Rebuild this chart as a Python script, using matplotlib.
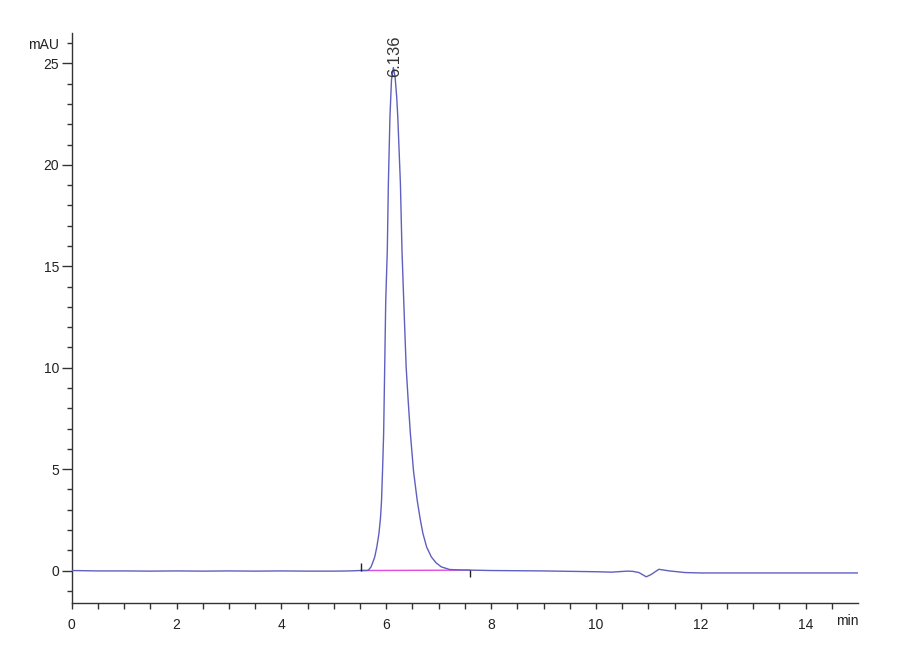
import matplotlib
matplotlib.use("Agg")
import matplotlib.pyplot as plt
from matplotlib.ticker import FixedLocator

plt.rcParams['font.family'] = ['Liberation Sans', 'DejaVu Sans']

# Chromatogram trace (time in min, signal in mAU)
time_min = [0.0, 0.5, 1.0, 1.5, 2.0, 2.5, 3.0, 3.5, 4.0, 4.5, 5.0, 5.3, 5.5, 5.62,
            5.66, 5.71, 5.75, 5.78, 5.82, 5.86, 5.89, 5.91, 5.93, 5.95, 5.97, 5.99,
            6.02, 6.04, 6.07, 6.10, 6.136, 6.17, 6.20, 6.22, 6.27, 6.30, 6.34, 6.38,
            6.42, 6.46, 6.52, 6.59, 6.65, 6.70, 6.77, 6.86, 6.95, 7.05, 7.21, 7.4,
            7.6, 8.0, 8.5, 9.0, 9.5, 10.0, 10.3, 10.6, 10.7, 10.82, 10.96, 11.05,
            11.2, 11.4, 11.7, 12.0, 12.5, 13.0, 13.5, 14.0, 14.5, 15.0]
signal_mau = [0.0, -0.02, -0.02, -0.03, -0.02, -0.03, -0.02, -0.03, -0.02, -0.03, -0.03, -0.02, 0.0, 0.0,
              0.02, 0.18, 0.45, 0.67, 1.16, 1.82, 2.6, 3.46, 5.0, 6.75, 10.0, 13.3,
              15.8, 19.06, 22.35, 24.2, 24.8, 24.3, 23.3, 22.35, 19.06, 15.78, 12.8, 10.0,
              8.3, 6.75, 4.9, 3.46, 2.5, 1.82, 1.16, 0.67, 0.38, 0.18, 0.05, 0.03,
              0.02, 0.0, -0.01, -0.02, -0.04, -0.06, -0.08, -0.03, -0.04, -0.1, -0.31, -0.2,
              0.06, -0.02, -0.1, -0.12, -0.12, -0.12, -0.12, -0.12, -0.12, -0.12]

# Integration baseline (start / end)
baseline_time = [5.51, 7.59]
baseline_mau = [0.0, 0.02]

# Peak annotation
peak_rt = 6.136
peak_label = "6.136"
peak_height = 24.8

x_major = [0, 2, 4, 6, 8, 10, 12, 14]
x_labels = ["0", "2", "4", "6", "8", "10", "12", "14"]
x_minor = [0.5, 1, 1.5, 2.5, 3, 3.5, 4.5, 5, 5.5, 6.5, 7, 7.5, 8.5, 9, 9.5,
           10.5, 11, 11.5, 12.5, 13, 13.5, 14.5]
y_major = [0, 5, 10, 15, 20, 25, 26]
y_labels = ["0", "5", "10", "15", "20", "25", "mAU"]
y_minor = list(range(-1, 27))

fig = plt.figure(figsize=(9, 6.6), dpi=100)
ax = fig.add_axes([0.0797, 0.0864, 0.8737, 0.8636])

ax.plot(time_min, signal_mau, color='#5f5fc0', lw=1.0, zorder=3)
ax.plot(baseline_time, baseline_mau, color='#e04ce0', lw=1.0, zorder=2)
ax.plot([baseline_time[0]], [baseline_mau[0]], marker=2, color='#222222', ms=6, mew=1.0, zorder=4)
ax.plot([baseline_time[1]], [baseline_mau[1]], marker=3, color='#222222', ms=5, mew=1.0, zorder=4)

ax.text(peak_rt + 0.03, peak_height - 0.45, peak_label, rotation=90, ha='center', va='bottom',
        fontsize=12, color='#333333')

ax.set_xlim(0, 15)
ax.set_ylim(-1.6, 26.5)

for s in ['top', 'right']:
    ax.spines[s].set_visible(False)
for s in ['left', 'bottom']:
    ax.spines[s].set_color('#333333')
    ax.spines[s].set_linewidth(1.0)

ax.xaxis.set_major_locator(FixedLocator(x_major))
ax.set_xticklabels(x_labels)
ax.xaxis.set_minor_locator(FixedLocator(x_minor))
ax.yaxis.set_major_locator(FixedLocator(y_major))
ax.set_yticklabels(y_labels)
ax.yaxis.set_minor_locator(FixedLocator(y_minor))

ax.tick_params(axis='x', which='both', direction='out', length=4, width=1, color='#333333',
               labelsize=10, pad=7, labelcolor='#222222')
ax.tick_params(axis='y', which='major', direction='out', length=7, width=1, color='#333333',
               labelsize=10, pad=2, labelcolor='#222222')
ax.tick_params(axis='y', which='minor', direction='out', length=3.5, width=1, color='#333333')
ax.yaxis.get_major_ticks()[-1].tick1line.set_markersize(3.5)

ax.text(15, -2.15, "min", ha='right', va='top', fontsize=10, color='#222222')

fig.savefig("out.png", dpi=100)
